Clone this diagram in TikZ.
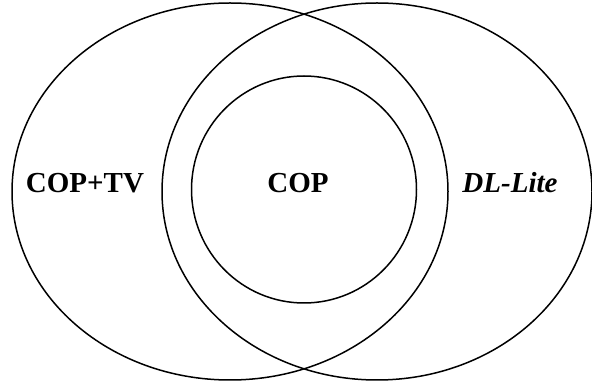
\documentclass[tikz,border=0pt]{standalone}
\usepackage{fontspec}
\setmainfont{Liberation Serif}
\usetikzlibrary{shapes.geometric}
\begin{document}
\begin{tikzpicture}[x=1pt,y=1pt,
  setshape/.style={draw=black, line width=1.5pt, ellipse, inner sep=0pt},
  setlabel/.style={font=\fontsize{29}{33}\selectfont\bfseries, anchor=base, inner sep=0pt}]
  \useasboundingbox (0,0) rectangle (592,385);
  % the two overlapping classes and the inner one
  \node[setshape, minimum width=436pt, minimum height=377pt] (tv) at (230,193.5) {};
  \node[setshape, minimum width=430pt, minimum height=377pt] (dl) at (377,193.5) {};
  \node[setshape, minimum width=225pt, minimum height=227pt] (cop) at (304,195.5) {};
  % labels
  \node[setlabel] (ltv) at (85,192) {COP+TV};
  \node[setlabel] (lcop) at (298,192) {COP};
  \node[setlabel] (ldl) at (510,192) {\itshape DL-Lite};
\end{tikzpicture}
\end{document}
